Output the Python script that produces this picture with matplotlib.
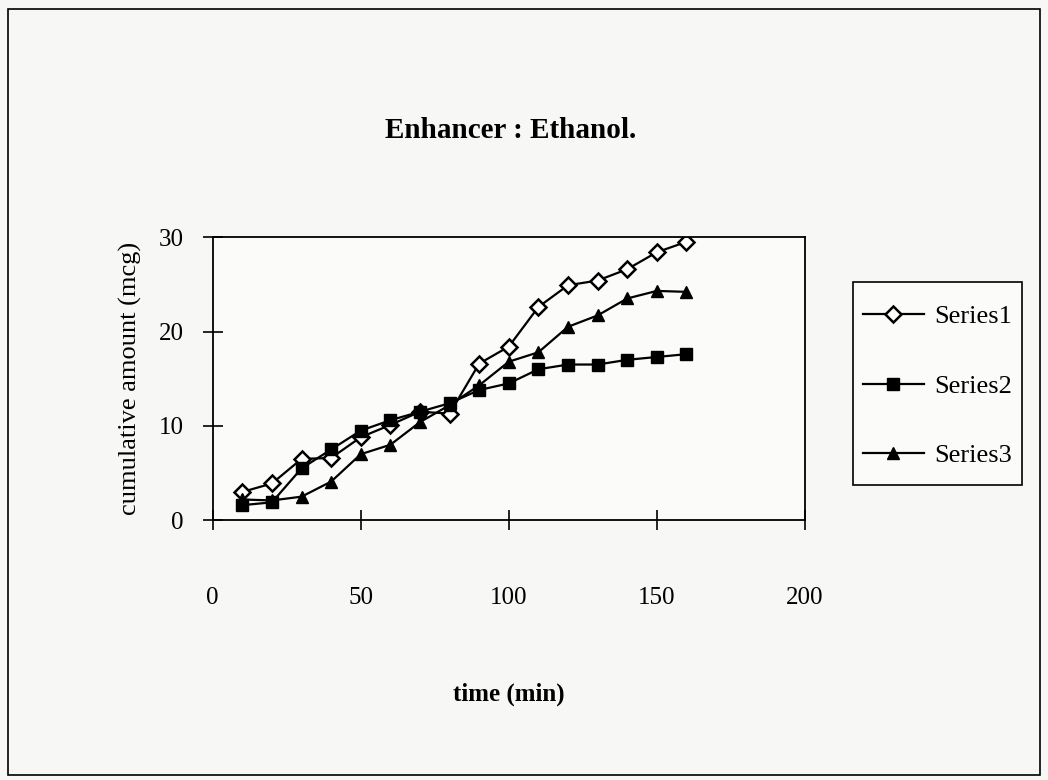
import matplotlib
matplotlib.use("Agg")
import matplotlib.pyplot as plt
from matplotlib.patches import Rectangle

# time points (min) and cumulative amounts (mcg)
time_min = [10, 20, 30, 40, 50, 60, 70, 80, 90, 100, 110, 120, 130, 140, 150, 160]
series1 = [3.0, 3.9, 6.5, 6.6, 8.8, 10.1, 11.5, 11.3, 16.6, 18.4, 22.6, 24.9, 25.4, 26.6, 28.4, 29.5]
series2 = [1.6, 1.9, 5.5, 7.5, 9.5, 10.6, 11.5, 12.4, 13.8, 14.5, 16.0, 16.5, 16.5, 17.0, 17.3, 17.6]
series3 = [2.2, 2.1, 2.5, 4.1, 7.0, 8.0, 10.4, 12.2, 14.3, 16.8, 17.8, 20.5, 21.7, 23.5, 24.3, 24.2]

plt.rcParams['font.family'] = ['Liberation Serif', 'DejaVu Serif']

fig = plt.figure(figsize=(10.48, 7.8), dpi=100)
fig.patch.set_facecolor('#f7f7f5')
fig.patches.append(Rectangle((0.008, 0.007), 0.984, 0.982, transform=fig.transFigure,
                             fill=False, edgecolor='black', linewidth=1.2))

ax = fig.add_axes([0.203, 0.333, 0.565, 0.363])
ax.set_facecolor('#fbfbfa')

ax.plot(time_min, series1, '-D', color='black', lw=1.6, markersize=8,
        markerfacecolor='white', markeredgewidth=1.8, label='Series1')
ax.plot(time_min, series2, '-s', color='black', lw=1.6, markersize=8,
        markerfacecolor='black', label='Series2')
ax.plot(time_min, series3, '-^', color='black', lw=1.6, markersize=9,
        markerfacecolor='black', label='Series3')

ax.set_xlim(0, 200)
ax.set_ylim(0, 30)
ax.set_xticks([0, 50, 100, 150, 200])
ax.set_yticks([0, 10, 20, 30])
ax.tick_params(axis='x', direction='inout', length=14, width=1.2, pad=41, labelsize=18)
ax.tick_params(axis='y', direction='inout', length=14, width=1.2, pad=14, labelsize=18)
for s in ax.spines.values():
    s.set_linewidth(1.3)

ax.set_xlabel('time (min)', fontsize=18, fontweight='bold', labelpad=53)
ax.set_ylabel('cumulative amount (mcg)', fontsize=19, labelpad=12)

fig.text(0.487, 0.833, 'Enhancer : Ethanol.', ha='center', va='center',
         fontsize=21, fontweight='bold')

# legend box drawn separately so its size can follow the original
fig.patches.append(Rectangle((853 / 1048, 1 - 485 / 780), 169 / 1048, 203 / 780,
                             transform=fig.transFigure, facecolor='#fbfbfa',
                             edgecolor='black', linewidth=1.2, zorder=0))
leg = fig.legend(loc='center', bbox_to_anchor=(0.8946, 0.505), fontsize=19,
                 labelspacing=1.75, handlelength=2.3, handletextpad=0.4,
                 frameon=False)

fig.savefig('out.png', dpi=100, facecolor=fig.get_facecolor())
